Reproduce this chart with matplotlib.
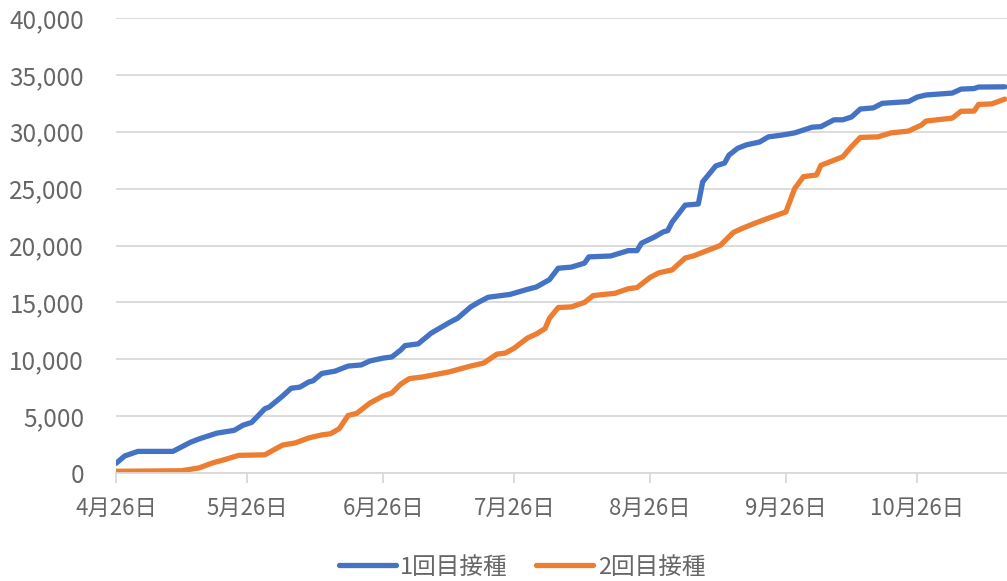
import datetime as dt
import matplotlib
matplotlib.use("Agg")
import matplotlib.pyplot as plt
import matplotlib.dates as mdates
from matplotlib.ticker import FuncFormatter

plt.rcParams['font.family'] = ['Noto Sans CJK JP', 'DejaVu Sans']

start = dt.date(2021, 4, 26)

# 1回目接種 (days since 4/26, cumulative count)
days1 = [0, 2, 5, 13, 17, 19, 23, 27, 29, 31, 34, 35, 38, 40, 42, 44, 45, 47, 50, 53,
         56, 58, 61, 63, 65, 66, 69, 72, 76, 78, 81, 83, 85, 90, 94, 96, 99, 101, 104,
         107, 108, 113, 117, 119, 120, 123, 125, 126, 127, 130, 133, 134, 137, 139, 140,
         142, 144, 147, 149, 152, 155, 157, 159, 161, 164, 166, 168, 170, 173, 175, 181,
         183, 185, 191, 193, 196, 197, 203]
dose1 = [850, 1500, 1900, 1900, 2700, 3000, 3500, 3750, 4200, 4450, 5650, 5800, 6750, 7450,
         7550, 8000, 8100, 8750, 8950, 9400, 9500, 9850, 10100, 10200, 10800, 11200, 11350,
         12300, 13200, 13600, 14600, 15050, 15450, 15700, 16150, 16350, 17000, 18000, 18100,
         18450, 19000, 19080, 19550, 19550, 20200, 20750, 21200, 21300, 22050, 23550, 23650,
         25600, 27000, 27250, 27950, 28550, 28850, 29100, 29550, 29700, 29900, 30150, 30400,
         30450, 31050, 31050, 31300, 32000, 32100, 32500, 32650, 33050, 33230, 33400, 33750,
         33800, 33930, 33950]

# 2回目接種
days2 = [0, 15, 19, 22, 25, 28, 34, 38, 41, 44, 47, 49, 51, 53, 55, 58, 61, 63, 65, 67,
         70, 76, 81, 84, 87, 89, 91, 94, 96, 98, 99, 101, 104, 107, 109, 114, 117, 119,
         122, 124, 127, 130, 132, 135, 138, 141, 143, 146, 149, 153, 155, 157, 160, 161,
         166, 168, 170, 174, 177, 181, 184, 185, 191, 193, 196, 197, 200, 203]
dose2 = [150, 200, 450, 880, 1200, 1550, 1600, 2450, 2650, 3080, 3350, 3450, 3900, 5050,
         5250, 6150, 6770, 7030, 7800, 8300, 8440, 8880, 9400, 9670, 10450, 10550, 10990,
         11870, 12220, 12700, 13600, 14550, 14600, 15000, 15600, 15800, 16200, 16300, 17200,
         17600, 17850, 18900, 19100, 19550, 20000, 21150, 21500, 21970, 22400, 22950, 25000,
         26050, 26200, 27050, 27800, 28700, 29500, 29550, 29900, 30060, 30600, 30940, 31200,
         31800, 31820, 32400, 32450, 32870]

labels = ['1回目接種', '2回目接種']
colors = ['#4472C4', '#ED7D31']
tick_dates = [dt.date(2021, m, 26) for m in range(4, 11)]

x1 = [start + dt.timedelta(days=d) for d in days1]
x2 = [start + dt.timedelta(days=d) for d in days2]

fig = plt.figure(figsize=(10.07, 5.81), dpi=100)
ax = fig.add_axes([116 / 1007, 1 - 473 / 581, 1 - 116 / 1007, (473 - 18) / 581])

ax.plot(x1, dose1, color=colors[0], lw=3.8, label=labels[0], solid_capstyle='round')
ax.plot(x2, dose2, color=colors[1], lw=3.8, label=labels[1], solid_capstyle='round')

ax.set_ylim(0, 40000)
ax.set_yticks(range(0, 40001, 5000))
ax.yaxis.set_major_formatter(FuncFormatter(lambda v, p: f"{int(v):,}"))
ax.set_xlim(mdates.date2num(start), mdates.date2num(start) + 203.5)
ax.set_xticks([mdates.date2num(d) for d in tick_dates])
ax.set_xticklabels([f"{d.month}月{d.day}日" for d in tick_dates])

ax.grid(axis='y', color='#d9d9d9', lw=1.3)
ax.set_axisbelow(True)
for s in ['left', 'right', 'top']:
    ax.spines[s].set_visible(False)
ax.spines['bottom'].set_color('#d9d9d9')
ax.spines['bottom'].set_linewidth(1.3)
ax.tick_params(axis='y', length=0, pad=23, labelsize=17.5, labelcolor='#666666')
ax.tick_params(axis='x', length=7, width=1.3, color='#d9d9d9', pad=10.5,
               labelsize=16, labelcolor='#666666')

fig.legend(loc='center', bbox_to_anchor=(522 / 1007, 1 - 567 / 581), ncol=2,
           frameon=False, fontsize=17, labelcolor='#666666', handlelength=2.4,
           columnspacing=1.2, handletextpad=0.2)

fig.savefig('out.png', dpi=100)
